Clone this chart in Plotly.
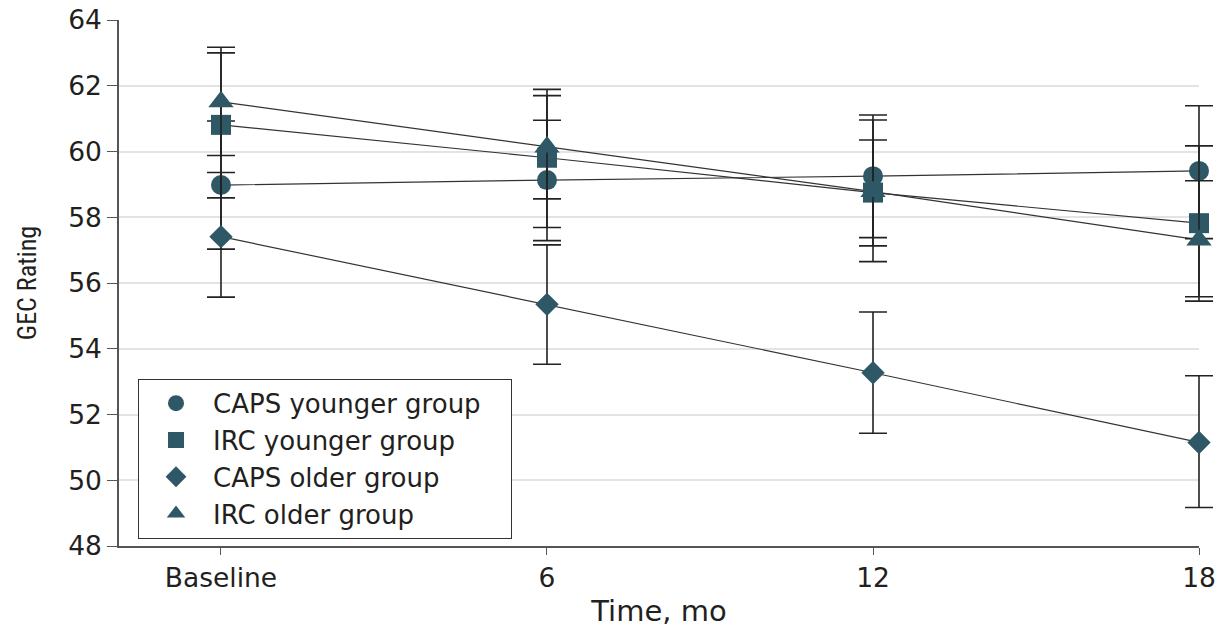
import plotly.graph_objects as go

# ---- data ----
months = [0, 6, 12, 18]
tick_labels = ["Baseline", "6", "12", "18"]
y_ticks = [48, 50, 52, 54, 56, 58, 60, 62, 64]

series_names = ["CAPS younger group", "IRC younger group", "CAPS older group", "IRC older group"]

caps_young_mean = [58.98, 59.13, 59.25, 59.41]
caps_young_lo = [57.03, 57.29, 57.38, 57.35]
caps_young_hi = [60.93, 60.95, 61.11, 61.39]

irc_young_mean = [60.81, 59.81, 58.75, 57.82]
irc_young_lo = [58.59, 57.69, 57.13, 55.45]
irc_young_hi = [63.00, 61.70, 60.35, 60.17]

caps_old_mean = [57.41, 55.35, 53.27, 51.15]
caps_old_lo = [55.57, 53.53, 51.43, 49.17]
caps_old_hi = [59.36, 57.16, 55.12, 53.18]

irc_old_mean = [61.51, 60.14, 58.78, 57.31]
irc_old_lo = [59.88, 58.56, 56.65, 55.58]
irc_old_hi = [63.17, 61.89, 60.96, 59.11]

# ---- style ----
MARKER_COLOR = "#2f5866"
TEXT_COLOR = "#231f20"
FONT = "DejaVu Sans, Verdana, sans-serif"
NARROW = "Liberation Sans Narrow, Roboto Condensed, DejaVu Sans Condensed, Arial Narrow, sans-serif"

X_MIN, X_MAX = -1.877, 18.0
# overlay axis (same scale) that reaches to the right edge so markers / caps at 18 are not clipped
MAIN_DOMAIN_END = 1080 / 1099
X2_MAX = X_MIN + (X_MAX - X_MIN) / MAIN_DOMAIN_END

series = [
    (series_names[0], caps_young_mean, caps_young_lo, caps_young_hi, "circle", 20),
    (series_names[1], irc_young_mean, irc_young_lo, irc_young_hi, "square", 20),
    (series_names[2], caps_old_mean, caps_old_lo, caps_old_hi, "diamond", 18),
    (series_names[3], irc_old_mean, irc_old_lo, irc_old_hi, "triangle-up", 22),
]

fig = go.Figure()

# connecting lines (main subplot)
for name, mean, lo, hi, sym, size in series:
    fig.add_trace(go.Scatter(
        x=months, y=mean, mode="lines",
        line=dict(color="#333333", width=1.2),
        showlegend=False, hoverinfo="skip",
        xaxis="x", yaxis="y",
    ))

# markers with error bars (overlapping subplot with identical scale)
for name, mean, lo, hi, sym, size in series:
    fig.add_trace(go.Scatter(
        x=months, y=mean, mode="markers", name=name + "\u00a0\u00a0\u00a0",
        marker=dict(symbol=sym, size=size, color=MARKER_COLOR, line=dict(width=0)),
        error_y=dict(
            type="data", symmetric=False,
            array=[h - m for h, m in zip(hi, mean)],
            arrayminus=[m - l for m, l in zip(mean, lo)],
            color="#222222", thickness=1.6, width=14,
        ),
        cliponaxis=False,
        xaxis="x2", yaxis="y2",
    ))

fig.update_layout(
    width=1218, height=628,
    margin=dict(l=119, r=0, t=20, b=82),
    paper_bgcolor="white", plot_bgcolor="rgba(0,0,0,0)",
    font=dict(family=FONT, color=TEXT_COLOR, size=26),
    showlegend=True,
    legend=dict(
        x=0.0173, y=0.318, xanchor="left", yanchor="top",
        bordercolor="#333333", borderwidth=1, bgcolor="white",
        font=dict(size=26, family=FONT, color=TEXT_COLOR),
        itemwidth=64,
    ),
    xaxis=dict(
        domain=[0, MAIN_DOMAIN_END], anchor="y",
        range=[X_MIN, X_MAX], tickmode="array", tickvals=months, ticktext=tick_labels,
        showgrid=False, zeroline=False, automargin=False,
        showline=True, linecolor="#555555", linewidth=1.5,
        ticks="outside", ticklen=7, tickwidth=1.2, tickcolor="#555555",
        tickfont=dict(size=26.5, family=FONT, color=TEXT_COLOR),
        title=dict(text="Time, mo", font=dict(size=29, family=FONT, color=TEXT_COLOR), standoff=24),
    ),
    yaxis=dict(
        domain=[0, 1], anchor="x",
        range=[48, 64], tickmode="array", tickvals=y_ticks,
        showgrid=True, gridcolor="#e3e3e3", gridwidth=2, zeroline=False, automargin=False,
        showline=True, linecolor="#555555", linewidth=1.5,
        ticks="outside", ticklen=10, tickwidth=1.2, tickcolor="#555555",
        tickfont=dict(size=26.5, family=FONT, color=TEXT_COLOR),
        title=dict(text="GEC Rating", font=dict(size=26, family=NARROW, color=TEXT_COLOR), standoff=24),
    ),
    xaxis2=dict(
        domain=[0, 1], anchor="y2", range=[X_MIN, X2_MAX],
        visible=False, showgrid=False, zeroline=False, automargin=False,
    ),
    yaxis2=dict(
        domain=[0, 1], anchor="x2", range=[48, 64],
        visible=False, showgrid=False, zeroline=False, automargin=False,
    ),
)

fig.write_html("out.html")
